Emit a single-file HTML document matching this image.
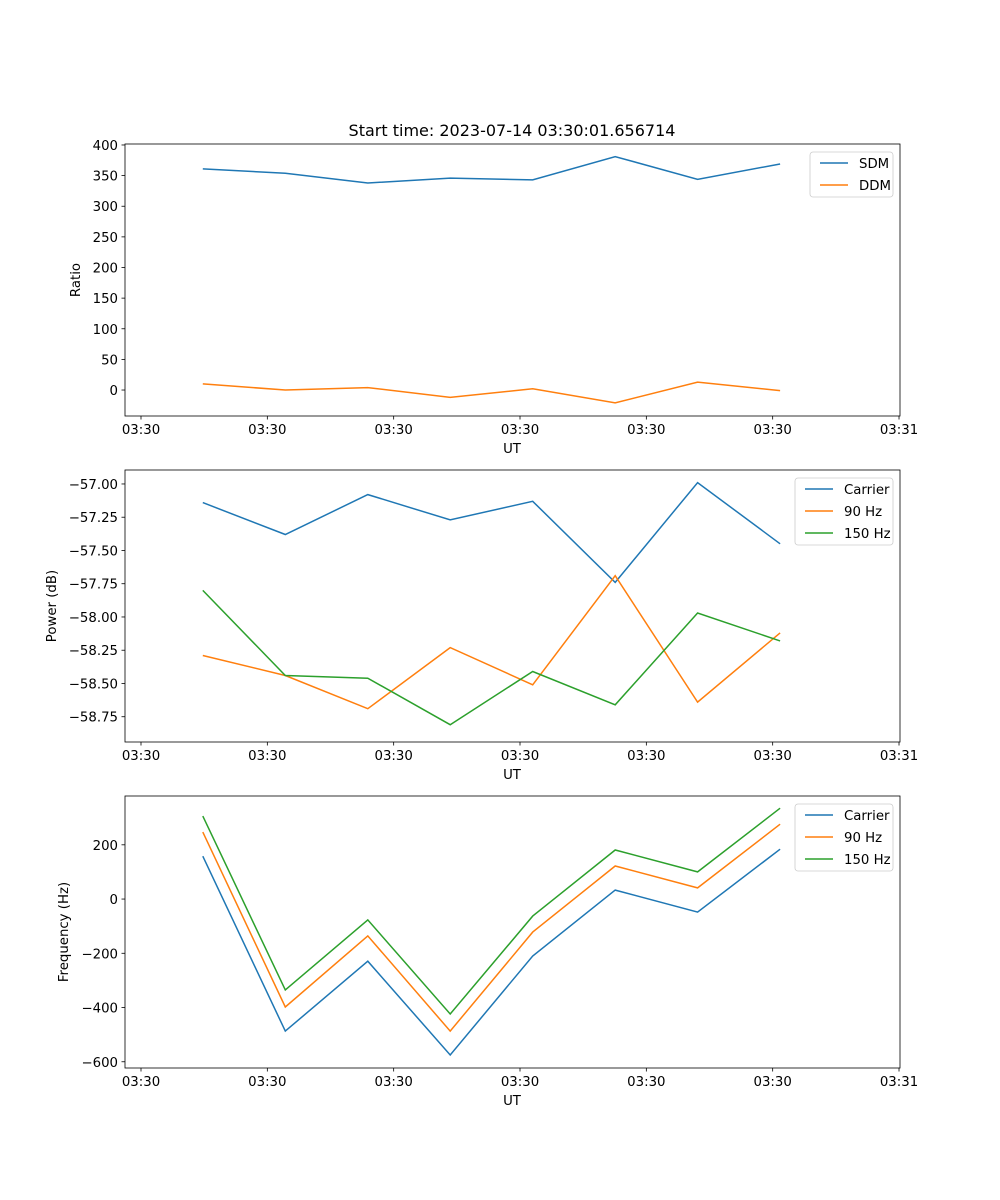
<!DOCTYPE html>
<html><head><meta charset="utf-8"><style>
body{margin:0;background:#fff}
svg{display:block;font-family:"DejaVu Sans","Liberation Sans",sans-serif}
</style></head><body>
<svg id="fig" width="1000" height="1200" viewBox="0 0 1000 1200" xmlns="http://www.w3.org/2000/svg">
<rect width="1000" height="1200" fill="#fff"/>
<text x="512" y="136" font-size="16" text-anchor="middle">Start time: 2023-07-14 03:30:01.656714</text>
</svg>
<script>
const xIdx = [0,1,2,3,4,5,6,7];
const xTickVals = [-0.75,0.782,2.314,3.846,5.378,6.91,8.442];
const xTickLabels = ["03:30","03:30","03:30","03:30","03:30","03:30","03:31"];
const sdm = [361,354,338,346,343,381,344,369];
const ddm = [10,0,4,-12,2,-21,13,-1];
const pCarrier = [-57.14,-57.38,-57.08,-57.27,-57.13,-57.74,-56.99,-57.45];
const p90 = [-58.29,-58.44,-58.69,-58.23,-58.51,-57.69,-58.64,-58.12];
const p150 = [-57.80,-58.44,-58.46,-58.81,-58.41,-58.66,-57.97,-58.18];
const fCarrier = [158,-487,-229,-575,-210,33,-48,184];
const f90 = [247,-398,-136,-487,-122,122,41,276];
const f150 = [306,-335,-77,-424,-63,181,100,335];
const ticksTop = [0,50,100,150,200,250,300,350,400];
const ticksMid = [-58.75,-58.5,-58.25,-58,-57.75,-57.5,-57.25,-57];
const ticksBot = [-600,-400,-200,0,200];

const NS="http://www.w3.org/2000/svg";
const svg=document.getElementById('fig');
const C={b:'#1f77b4',o:'#ff7f0e',g:'#2ca02c'};
const FS=13.3;
function mk(tag,at,parent){const e=document.createElementNS(NS,tag);for(const k in at)e.setAttribute(k,at[k]);(parent||svg).appendChild(e);return e;}
const L=125,R=900;
const xDom=[-0.944,8.454];
function xs(v){return L+(v-xDom[0])/(xDom[1]-xDom[0])*(R-L);}

function panel(name,top,bot,yDom,yTicks,fmt,ylabel,series,legend,ylabX){
  const g=mk('g',{});
  
  
  const ys=v=>bot-(v-yDom[0])/(yDom[1]-yDom[0])*(bot-top);
  series.forEach(s=>{
    const pts=s.vals.map((v,i)=>xs(xIdx[i]).toFixed(1)+','+ys(v).toFixed(1)).join(' ');
    const p=mk('polyline',{points:pts,fill:'none',stroke:s.c,'stroke-width':1.5},g);
    
    
  });
  mk('rect',{x:L,y:top,width:R-L,height:bot-top,fill:'none',stroke:'#000','stroke-width':0.8},g);
  xTickVals.forEach((v,i)=>{const x=xs(v);
    mk('line',{x1:x,x2:x,y1:bot,y2:bot+3.5,stroke:'#000','stroke-width':0.8},g);
    const t=mk('text',{x:x,y:bot+18,'font-size':FS,'text-anchor':'middle'},g);t.textContent=xTickLabels[i];
    
    
  });
  yTicks.forEach(v=>{const y=ys(v);
    mk('line',{x1:L,x2:L-3.5,y1:y,y2:y,stroke:'#000','stroke-width':0.8},g);
    const t=mk('text',{x:L-7,y:y+5,'font-size':FS,'text-anchor':'end'},g);t.textContent=fmt(v);
    
    
  });
  const xl=mk('text',{x:512,y:bot+37,'font-size':FS,'text-anchor':'middle'},g);xl.textContent='UT';
  
  
  const cy=(top+bot)/2;
  const yl=mk('text',{x:ylabX,y:cy,'font-size':FS,'text-anchor':'middle',transform:`rotate(-90 ${ylabX} ${cy})`},g);yl.textContent=ylabel;
  
  
  const lg=mk('g',{},g);
  
  
  mk('rect',{x:legend.x,y:top+8,width:R-7-legend.x,height:series.length*22+1,rx:3,fill:'#fff','fill-opacity':0.8,stroke:'#ccc','stroke-width':0.8},lg);
  series.forEach((s,i)=>{const y=top+19+i*22;
    mk('line',{x1:legend.x+10,x2:legend.x+38,y1:y,y2:y,stroke:s.c,'stroke-width':1.5},lg);
    const t=mk('text',{x:legend.x+49,y:y+5,'font-size':FS},lg);t.textContent=s.label;
    
    
  });
}
panel('ratio',144,416,[-42.4,401.6],ticksTop,v=>v<0?'\u2212'+(-v):String(v),'Ratio',
 [{id:'sdm',vals:sdm,c:C.b,label:'SDM'},{id:'ddm',vals:ddm,c:C.o,label:'DDM'}],{x:810},80);
panel('power',470,742,[-58.94,-56.895],ticksMid,v=>'\u2212'+(-v).toFixed(2),'Power (dB)',
 [{id:'carrier',vals:pCarrier,c:C.b,label:'Carrier'},{id:'90hz',vals:p90,c:C.o,label:'90 Hz'},{id:'150hz',vals:p150,c:C.g,label:'150 Hz'}],{x:795},56);
panel('frequency',796,1068,[-623,380],ticksBot,v=>v<0?'\u2212'+(-v):String(v),'Frequency (Hz)',
 [{id:'carrier',vals:fCarrier,c:C.b,label:'Carrier'},{id:'90hz',vals:f90,c:C.o,label:'90 Hz'},{id:'150hz',vals:f150,c:C.g,label:'150 Hz'}],{x:795},68);
</script>
</body></html>
